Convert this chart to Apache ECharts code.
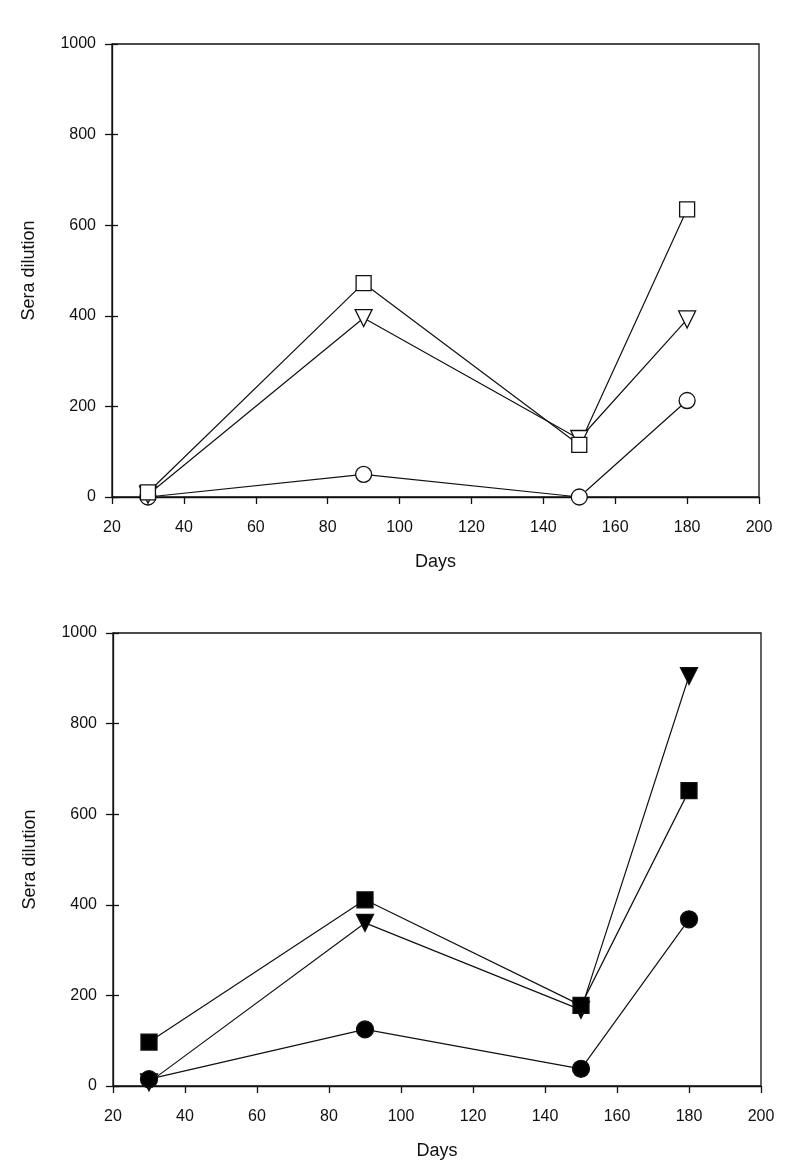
<!DOCTYPE html>
<html><head><meta charset="utf-8">
<script src="https://cdn.jsdelivr.net/npm/echarts@6/dist/echarts.min.js"></script>
<style>html,body{margin:0;padding:0;background:#fff}#c{width:790px;height:1172px}</style>
</head><body><div id="c"></div>
<script>
const days = [30, 90, 150, 180];
const xTicks = [20, 40, 60, 80, 100, 120, 140, 160, 180, 200];
const yTicks = [0, 200, 400, 600, 800, 1000];
// Top panel (open symbols)
const topCircle = [0, 50, 0, 213];
const topTriangle = [5, 395, 128, 392];
const topSquare = [10, 472, 115, 635];
// Bottom panel (filled symbols)
const botCircle = [15, 125, 38, 368];
const botTriangle = [8, 360, 168, 905];
const botSquare = [97, 411, 178, 652];

const FONT = 'Liberation Sans, Arial, sans-serif';
const chart = echarts.init(document.getElementById('c'), null, {renderer: 'canvas'});
const pair = (ys) => days.map((d, i) => [d, ys[i]]);

function xAxis(gi) {
  return {
    gridIndex: gi, type: 'value', min: xTicks[0], max: xTicks[xTicks.length - 1], interval: 20,
    name: 'Days', nameLocation: 'middle', nameGap: 56,
    nameTextStyle: {fontFamily: FONT, fontSize: 18, color: '#111'},
    axisLine: {lineStyle: {color: '#111', width: 1.3}},
    axisTick: {inside: false, length: 7, lineStyle: {color: '#111', width: 1.3}},
    axisLabel: {fontFamily: FONT, fontSize: 16, color: '#111', margin: 23, formatter: v => String(v)},
    splitLine: {show: false}
  };
}
function yAxis(gi) {
  return {
    gridIndex: gi, type: 'value', min: yTicks[0], max: yTicks[yTicks.length - 1], interval: 200,
    name: 'Sera dilution', nameLocation: 'middle', nameGap: 74, nameRotate: 90,
    nameTextStyle: {fontFamily: FONT, fontSize: 18, color: '#111'},
    axisLine: {lineStyle: {color: '#111', width: 1.3}},
    axisTick: {inside: false, length: 7, lineStyle: {color: '#111', width: 1.3}},
    axisLabel: {fontFamily: FONT, fontSize: 16, color: '#111', margin: 16, formatter: v => String(v)},
    splitLine: {show: false}
  };
}
function yInner(gi) {
  return {
    gridIndex: gi, type: 'value', min: 0, max: 1000, interval: 200, position: 'left',
    axisLine: {show: false},
    axisTick: {inside: true, length: 6, lineStyle: {color: '#111', width: 1.3}},
    axisLabel: {show: false}, splitLine: {show: false}
  };
}
function series(name, gi, data, symbol, filled, rotate, size) {
  return {
    name, type: 'line', xAxisIndex: gi, yAxisIndex: gi * 2, data: pair(data),
    symbol, symbolSize: size, symbolRotate: rotate || 0, showSymbol: true,
    lineStyle: {color: '#111', width: 1.2},
    itemStyle: {color: filled ? '#000' : '#fff', borderColor: '#111', borderWidth: 1.3},
    emphasis: {disabled: true}, animation: false, z: 3
  };
}
chart.setOption({
  backgroundColor: '#fff',
  animation: false,
  grid: [
    {left: 112, top: 44, width: 647, height: 453, show: true, borderColor: '#111', borderWidth: 1.3, backgroundColor: 'transparent'},
    {left: 113, top: 633, width: 648, height: 453, show: true, borderColor: '#111', borderWidth: 1.3, backgroundColor: 'transparent'}
  ],
  xAxis: [xAxis(0), xAxis(1)],
  yAxis: [yAxis(0), yInner(0), yAxis(1), yInner(1)],
  series: [
    series('Top circle', 0, topCircle, 'circle', false, 0, 16),
    series('Top triangle', 0, topTriangle, 'triangle', false, 180, 17),
    series('Top square', 0, topSquare, 'rect', false, 0, 15),
    series('Bottom triangle', 1, botTriangle, 'triangle', true, 180, 17),
    series('Bottom circle', 1, botCircle, 'circle', true, 0, 17),
    series('Bottom square', 1, botSquare, 'rect', true, 0, 16)
  ]
});
</script></body></html>
